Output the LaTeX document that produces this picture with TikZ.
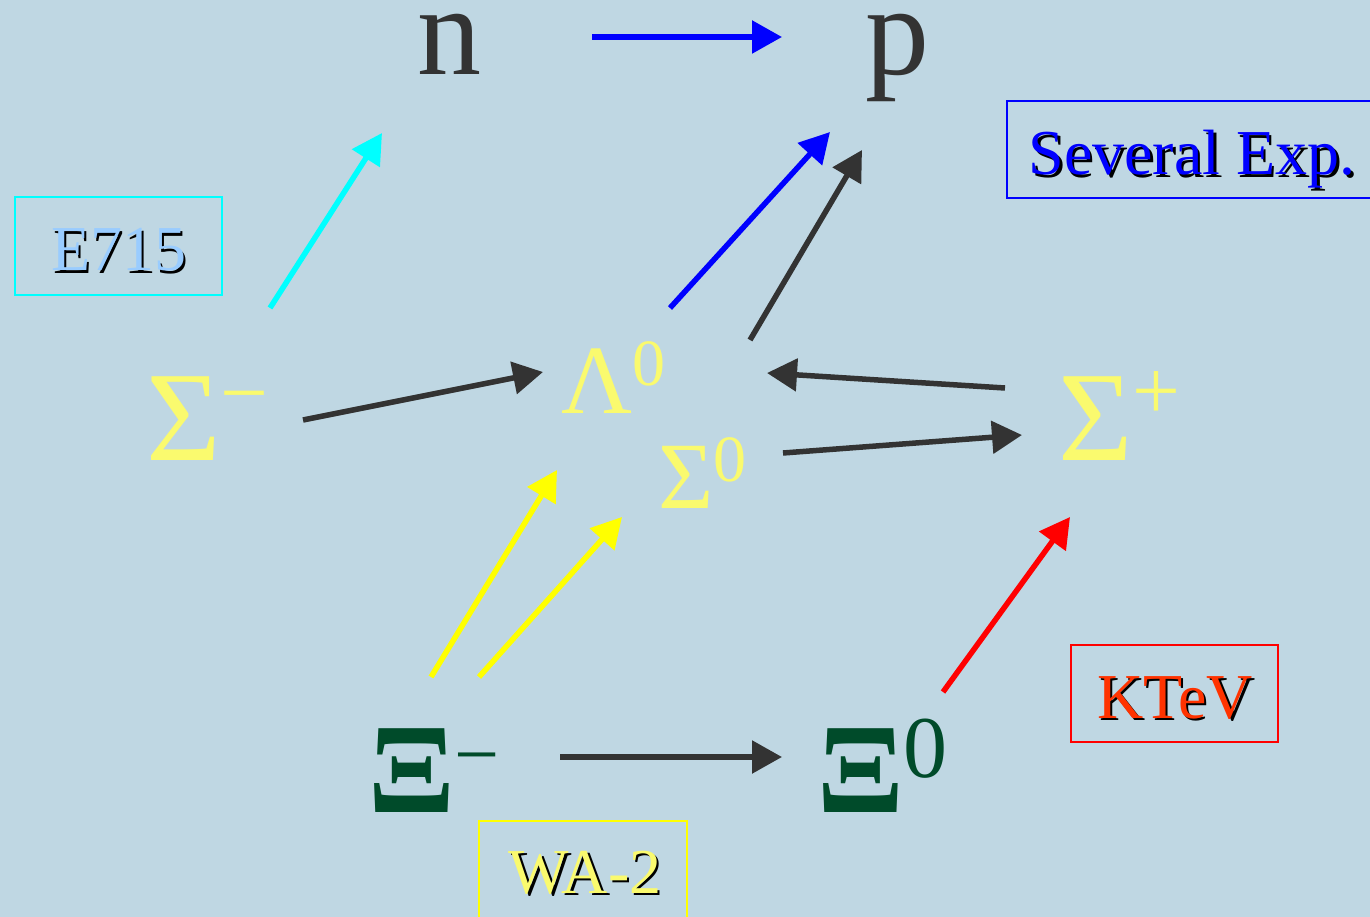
\documentclass[tikz,border=0pt]{standalone}
\usepackage{fontspec}
\setmainfont{Liberation Serif}
\usetikzlibrary{arrows.meta}
\definecolor{bg}{RGB}{191,215,227}
\definecolor{dk}{RGB}{51,51,51}
\definecolor{sig}{RGB}{250,250,110}
\definecolor{xig}{RGB}{0,75,42}
\definecolor{lb}{RGB}{153,204,255}
\definecolor{kt}{RGB}{255,51,0}
\definecolor{cy}{RGB}{0,255,255}
\definecolor{bl}{RGB}{0,0,255}
\definecolor{ye}{RGB}{255,255,0}
\definecolor{rd}{RGB}{255,0,0}
\newcommand{\fsz}[1]{\fontsize{#1}{#1}\selectfont}
\tikzset{
  part/.style={inner sep=0pt, anchor=base west},
  lab/.style={inner sep=0pt, anchor=base, font=\fsz{64pt}},
  expbox/.style={draw, line width=2pt, inner sep=0pt},
  arr/.style={line width=5.5pt, -{Triangle[length=30pt,width=32pt]}},
}
\begin{document}
\begin{tikzpicture}[x=1pt,y=-1pt]
\fill[bg] (0,0) rectangle (1370,917);
\useasboundingbox (0,0) rectangle (1370,917);
\clip (0,0) rectangle (1370,917);
% particles
\node[part, text=dk, font=\fsz{128pt}, text height=58pt] (n) at (417,75) {n};
\node[part, text=dk, font=\fsz{128pt}, text height=58pt] (p) at (865,75) {p};
\node[part, text=sig] (sm) at (146,460) {\fsz{128pt}Σ\raisebox{39pt}{\fsz{85pt}−}};
\node[part, text=sig] (l0) at (561,413) {\fsz{98pt}Λ\raisebox{28pt}{\fsz{66pt}0}};
\node[part, text=sig] (s0) at (658,508) {\fsz{95pt}Σ\raisebox{27pt}{\fsz{66pt}0}};
\node[part, text=sig] (sp) at (1058,460) {\fsz{128pt}Σ\raisebox{41pt}{\fsz{85pt}+}};
\node[part, text=xig] (xm) at (368,812) {\fsz{128pt}\bfseries Ξ\mdseries\raisebox{31pt}{\fsz{80pt}−}};
\node[part, text=xig] (x0) at (817,812) {\fsz{128pt}\bfseries Ξ\mdseries\raisebox{35pt}{\fsz{88pt}0}};
% experiment boxes
\node[expbox, draw=cy, minimum width=207pt, minimum height=98pt] (b1) at (118.5,246) {};
\node[lab, text=black] (t1s) at (121,273) {E715};
\node[lab, text=lb] (t1) at (119,271) {E715};
\node[expbox, draw=bl, minimum width=371pt, minimum height=97pt] (b2) at (1192.5,149.5) {};
\node[lab, text=black] (t2s) at (1194.5,177.5) {Several Exp.};
\node[lab, text=bl] (t2) at (1192,175) {Several Exp.};
\node[expbox, draw=rd, minimum width=207pt, minimum height=97pt] (b3) at (1174.5,693.5) {};
\node[lab, text=black] (t3s) at (1177.5,720.5) {KTeV};
\node[lab, text=kt] (t3) at (1175,718) {KTeV};
\node[expbox, draw=ye, minimum width=208pt, minimum height=104pt] (b4) at (583,873) {};
\node[lab, text=black] (t4s) at (587.5,895.5) {WA-2};
\node[lab, text=sig] (t4) at (585,893) {WA-2};
% arrow end points
\coordinate (np1) at (592,37);   \coordinate (np2) at (782,37);
\coordinate (c1) at (270,308);   \coordinate (c2) at (382,133);
\coordinate (bl1) at (670,308);  \coordinate (bl2) at (830,132);
\coordinate (d1) at (750,340);   \coordinate (d2) at (862,150);
\coordinate (e1) at (303,420);   \coordinate (e2) at (543,372);
\coordinate (f1) at (1005,388);  \coordinate (f2) at (767,373);
\coordinate (g1) at (783,453);   \coordinate (g2) at (1022,435);
\coordinate (y1) at (431,677);   \coordinate (y2) at (557,470);
\coordinate (z1) at (479,677);   \coordinate (z2) at (622,517);
\coordinate (r1) at (943,692);   \coordinate (r2) at (1070,517);
\coordinate (h1) at (560,757);   \coordinate (h2) at (782,757);
% connectors
\draw[arr, bl] (np1) -- (np2);
\draw[arr, cy] (c1) -- (c2);
\draw[arr, bl] (bl1) -- (bl2);
\draw[arr, dk] (d1) -- (d2);
\draw[arr, dk] (e1) -- (e2);
\draw[arr, dk] (f1) -- (f2);
\draw[arr, dk] (g1) -- (g2);
\draw[arr, ye] (y1) -- (y2);
\draw[arr, ye] (z1) -- (z2);
\draw[arr, rd] (r1) -- (r2);
\draw[arr, dk] (h1) -- (h2);
\end{tikzpicture}
\end{document}
